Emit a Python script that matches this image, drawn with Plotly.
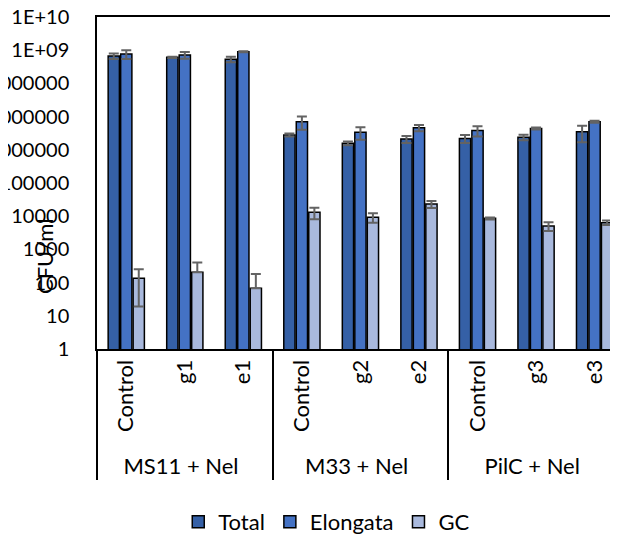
import plotly.graph_objects as go

groups = ["MS11 + Nel"] * 3 + ["M33 + Nel"] * 3 + ["PilC + Nel"] * 3
subcats = ["Control", "g1", "e1", "Control", "g2", "e2", "Control", "g3", "e3"]

total = [6.7e8, 6.1e8, 5.3e8, 2.8e6, 1.57e6, 2.1e6, 2.2e6, 2.4e6, 3.5e6]
total_err = [1.3e8, 3e7, 1e8, 3e5, 2e5, 5e5, 6e5, 4.5e5, 1.8e6]
elongata = [7.7e8, 7.2e8, 9.0e8, 7.0e6, 3.4e6, 4.6e6, 3.8e6, 4.4e6, 7.0e6]
elongata_err = [2.3e8, 1.7e8, 3e7, 3e6, 1.4e6, 1e6, 1.3e6, 3e5, 5e5]
gc = [135, 204, 67, 1.31e4, 9.3e3, 2.33e4, 8.6e3, 5.1e3, 6.4e3]
gc_err_plus = [116, 200, 114, 5e3, 3e3, 5.5e3, 600, 1.5e3, 1e3]
gc_err_minus = [116, 0, 0, 5e3, 3e3, 5.5e3, 600, 1.5e3, 1e3]

tick_vals = [1, 10, 100, 1000, 10000, 100000, 1e6, 1e7, 1e8, 1e9, 1e10]
tick_text = ["1", "10", "100", "1000", "10000", "100000", "1000000",
             "10000000", "100000000", "1E+09", "1E+10"]

FONT = "Lato, 'Open Sans', sans-serif"
ERR_COLOR = "#636363"

x = [groups, subcats]

fig = go.Figure()
series = [
    ("Total", total, total_err, total_err, "#3560A6"),
    ("Elongata", elongata, elongata_err, elongata_err, "#4472C4"),
    ("GC", gc, gc_err_plus, gc_err_minus, "#A9B9DD"),
]
for name, vals, ep, em, color in series:
    fig.add_trace(go.Bar(
        name=name, x=x, y=vals,
        marker=dict(color=color, line=dict(color="#000000", width=1.5)),
        error_y=dict(type="data", array=ep, arrayminus=em, symmetric=False,
                     color=ERR_COLOR, thickness=2, width=5),
    ))

# the page body adds an 8px offset, so margins are compensated
fig.update_layout(
    width=618, height=536,
    margin=dict(l=89, r=8, t=9, b=195, autoexpand=False),
    paper_bgcolor="white", plot_bgcolor="white",
    font=dict(family=FONT, size=20, color="#000000"),
    barmode="group", bargap=0.36, bargroupgap=0.1,
    showlegend=True,
    legend=dict(orientation="h", x=0.441, xanchor="center", y=-0.521, yanchor="middle",
                font=dict(size=22), traceorder="normal", itemwidth=30),
    annotations=[dict(text="CFU/ml", textangle=-90, xref="paper", yref="paper",
                      x=-0.1017, y=0.28, xanchor="center", yanchor="middle",
                      showarrow=False, font=dict(size=22, family=FONT))],
)
fig.update_yaxes(type="log", range=[0, 10], tickvals=tick_vals, ticktext=tick_text,
                 showgrid=False, zeroline=False, showline=True, linecolor="#000000",
                 linewidth=1.5, ticks="", ticklabelstandoff=22, automargin=False,
                 ticklabeloverflow="allow", tickfont=dict(size=20, family=FONT))
fig.update_xaxes(type="multicategory", range=[-0.5, 8.4], showgrid=False,
                 showline=True, linecolor="#000000", linewidth=2, mirror=True,
                 ticks="", tickangle=-90, showdividers=True, dividercolor="#000000",
                 dividerwidth=2, automargin=False, ticklabeloverflow="allow",
                 tickfont=dict(size=22, family=FONT))

fig.write_html("out.html")
